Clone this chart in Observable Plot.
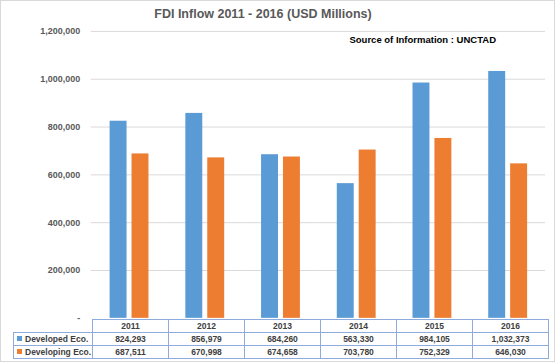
<!DOCTYPE html>
<html>
<head>
<meta charset="utf-8">
<script src="https://cdn.jsdelivr.net/npm/d3@7"></script>
<script src="https://cdn.jsdelivr.net/npm/@observablehq/plot@0.6"></script>
<style>
  html, body { margin: 0; padding: 0; background: #fff; }
  #wrap { position: relative; width: 553px; height: 360px; border: 1px solid #d9d9d9; overflow: hidden; font-family: "Liberation Sans", Arial, sans-serif; }
  #wrap svg { position: absolute; left: -1px; top: -1px; }
  .title { position: absolute; top: 6px; left: 0; width: 524px; text-align: center; font-weight: bold; font-size: 12.5px; color: #595959; }
  .source { position: absolute; top: 33px; right: 58px; font-weight: bold; font-size: 9.5px; color: #000; }
  table.dt { position: absolute; left: 12px; top: 318px; border-collapse: collapse; table-layout: fixed; font-weight: bold; font-size: 8.5px; color: #404040; }
  table.dt td { border: 1px solid #8faadc; text-align: center; padding: 0; white-space: nowrap; }
  table.dt td.blank { border: none; }
  table.dt td.lab { text-align: left; padding-left: 3px; }
  .key { display: inline-block; width: 5px; height: 5px; margin-right: 3px; vertical-align: 1px; }
</style>
</head>
<body>
<div id="wrap"></div>
<script>
const years = ["2011", "2012", "2013", "2014", "2015", "2016"];
const seriesNames = ["Developed Eco.", "Developing Eco."];
const developed = [824293, 856979, 684260, 563330, 984105, 1032373];
const developing = [687511, 670998, 674658, 703780, 752329, 646030];
const seriesColors = ["#5b9bd5", "#ed7d31"];
const yTicks = [0, 200000, 400000, 600000, 800000, 1000000, 1200000];
const titleText = "FDI Inflow 2011 - 2016 (USD Millions)";
const sourceText = "Source of Information : UNCTAD";

const data = [];
years.forEach((y, i) => {
  data.push({year: y, series: seriesNames[0], value: developed[i]});
  data.push({year: y, series: seriesNames[1], value: developing[i]});
});

const fmt = d3.format(",");
const chart = Plot.plot({
  width: 555,
  height: 362,
  marginTop: 31,
  marginBottom: 43,
  marginLeft: 91,
  marginRight: 8,
  style: {fontFamily: "'Liberation Sans', Arial, sans-serif", background: "transparent"},
  fx: {domain: years, padding: 0, axis: null, label: null},
  x: {domain: seriesNames, paddingInner: 0.25, paddingOuter: 0.85, axis: null, label: null},
  y: {domain: [0, 1200000], axis: null, label: null},
  color: {domain: seriesNames, range: seriesColors},
  marks: [
    Plot.ruleY(yTicks.filter(d => d > 0), {stroke: "#d9d9d9", strokeWidth: 1}),
    Plot.barY(data, {fx: "year", x: "series", y: "value", fill: "series"}),
    Plot.axisY({ticks: yTicks, tickSize: 0, tickPadding: 11, tickFormat: d => d === 0 ? "-" : fmt(d),
      fontWeight: "bold", fontSize: 9, fill: "#595959", anchor: "left", label: null})
  ]
});

const wrap = document.getElementById("wrap");
wrap.appendChild(chart);

const t = document.createElement("div");
t.className = "title"; t.textContent = titleText; wrap.appendChild(t);
const s = document.createElement("div");
s.className = "source"; s.textContent = sourceText; wrap.appendChild(s);

// data table
const table = document.createElement("table");
table.className = "dt";
const cg = document.createElement("colgroup");
[79, 76, 76, 76, 76, 76, 76].forEach(w => { const c = document.createElement("col"); c.style.width = w + "px"; cg.appendChild(c); });
table.appendChild(cg);
const hr = document.createElement("tr"); hr.style.height = "13px";
const hb = document.createElement("td"); hb.className = "blank"; hr.appendChild(hb);
years.forEach(y => { const td = document.createElement("td"); td.textContent = y; hr.appendChild(td); });
table.appendChild(hr);
[developed, developing].forEach((vals, si) => {
  const tr = document.createElement("tr"); tr.style.height = "13px";
  const lab = document.createElement("td"); lab.className = "lab";
  const k = document.createElement("span"); k.className = "key"; k.style.background = seriesColors[si];
  lab.appendChild(k); lab.appendChild(document.createTextNode(seriesNames[si]));
  tr.appendChild(lab);
  vals.forEach(v => { const td = document.createElement("td"); td.textContent = fmt(v); tr.appendChild(td); });
  table.appendChild(tr);
});
wrap.appendChild(table);
</script>
</body>
</html>
